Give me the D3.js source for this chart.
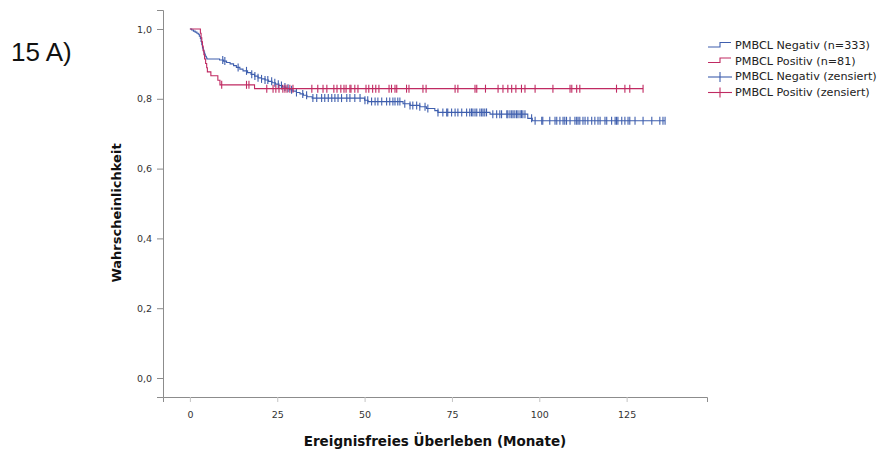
<!DOCTYPE html>
<html>
<head>
<meta charset="utf-8">
<script src="https://cdn.jsdelivr.net/npm/d3@7"></script>
<style>
  body { margin: 0; background: #fff; }
  text { font-family: "DejaVu Sans", sans-serif; }
</style>
</head>
<body>
<div id="chart"></div>
<script>
// event times (months) and survival after each event
var negTimes = [0.5, 1.0, 1.5, 2.0, 2.4, 2.7, 3.0, 3.2, 3.4, 3.6, 3.8, 4.0, 4.2, 4.4, 4.7, 4.9, 8.5, 9.6,
    10.5, 11.5, 12.5, 13.3, 14.3, 15.2, 16.5, 17.5, 18.5, 19.5, 20.5, 21.5, 22.5, 23.5, 24.5, 25.5,
    26.5, 27.5, 28.5, 29.5, 30.5, 31.5, 32.5, 33.5, 35.0, 50.0, 51.0, 61.0, 63.0, 65.8, 67.7, 70.1, 71.0,
    85.9, 96.7, 98.0];
var negSurv = [0.997, 0.994, 0.991, 0.988, 0.985, 0.979, 0.973, 0.964, 0.955, 0.946, 0.940, 0.934, 0.928, 0.922, 0.917, 0.914, 0.911, 0.908,
    0.904, 0.900, 0.895, 0.890, 0.885, 0.880, 0.875, 0.870, 0.865, 0.860, 0.857, 0.854, 0.850, 0.846, 0.842, 0.838,
    0.834, 0.830, 0.826, 0.822, 0.818, 0.814, 0.810, 0.806, 0.802, 0.796, 0.792, 0.786, 0.781, 0.777, 0.772, 0.766, 0.761,
    0.756, 0.744, 0.737];
var posTimes = [3.0, 3.2, 3.4, 3.6, 3.8, 4.0, 4.2, 4.5, 4.8, 5.0, 6.0, 8.0, 8.6, 18.5];
var posSurv = [0.988, 0.975, 0.963, 0.951, 0.938, 0.926, 0.914, 0.901, 0.889, 0.877, 0.866, 0.853, 0.840, 0.829];

// censored times (months)
var negCensor = [9.4, 10.0, 13.8, 16.2, 17.7, 18.6, 19.5, 20.5, 21.5, 22.3, 23.4, 24.3, 25.3, 26.2, 27.2, 28.1,
    29.1, 30.5, 32.3, 33.4, 35.2, 36.3, 37.7, 38.6, 39.6, 40.6, 41.5, 42.4, 43.4, 44.9, 45.8, 47.2, 48.7,
    50.1, 50.9, 52.0, 53.0, 53.8, 54.9, 56.3, 57.2, 58.1, 58.7, 59.5, 60.1, 61.5, 63.0, 63.8, 64.9, 65.8,
    67.3, 68.1, 71.0, 72.4, 73.5, 73.8, 74.9, 75.9, 76.7, 77.8, 79.2, 80.1, 80.6, 81.0, 81.6, 82.1, 83.0,
    83.5, 83.9, 84.4, 84.9, 86.7, 87.8, 88.7, 89.2, 90.7, 91.0, 91.6, 92.1, 92.5, 93.0, 93.5, 93.9, 94.5,
    94.9, 95.3, 95.9, 97.8, 98.8, 100.7, 101.0, 103.0, 104.5, 105.0, 105.9, 106.8, 107.3, 107.8, 108.8,
    110.2, 110.7, 111.1, 111.6, 112.5, 113.1, 113.9, 115.0, 115.9, 116.8, 117.4, 118.8, 119.3, 120.7,
    121.7, 122.1, 122.5, 123.6, 124.5, 125.4, 125.9, 127.4, 129.7, 132.2, 134.5, 135.4, 136.0];
var posCensor = [9.1, 16.2, 16.9, 22.0, 23.8, 24.6, 25.5, 26.6, 27.2, 27.8, 28.6, 29.5, 34.9, 36.6, 38.1, 39.2,
    41.2, 42.1, 43.2, 44.1, 44.7, 45.8, 46.1, 47.2, 48.1, 50.4, 51.2, 52.3, 53.2, 54.1, 57.0, 57.7, 58.7,
    59.2, 62.0, 62.7, 66.7, 67.6, 75.9, 76.7, 81.6, 82.1, 84.6, 88.2, 89.6, 91.0, 92.1, 93.3, 94.9, 95.9,
    98.8, 103.9, 108.8, 109.3, 110.7, 111.6, 122.1, 124.5, 125.9, 129.7];

var xTicks = [0, 25, 50, 75, 100, 125];
var yTicks = [0, 0.2, 0.4, 0.6, 0.8, 1.0];
var legendLabels = ["PMBCL Negativ (n=333)", "PMBCL Positiv (n=81)", "PMBCL Negativ (zensiert)", "PMBCL Positiv (zensiert)"];

var width = 889, height = 455;
var blue = "#3f5fae", red = "#c02a62", axisCol = "#8c8c8c";

var svg = d3.select("#chart").append("svg")
    .attr("width", width)
    .attr("height", height);

//scales
var x = d3.scaleLinear().domain([-7.7, 148]).range([163, 707]);
var y = d3.scaleLinear().domain([-0.0544, 1.0544]).range([397, 10]);

//panel label
svg.append("text")
    .attr("x", 11).attr("y", 61)
    .style("font-family", "'Liberation Sans', Arial, sans-serif")
    .style("font-size", "26px")
    .attr("fill", "#111")
    .text("15 A)");

//y axis
var yAxis = d3.axisLeft(y).tickValues(yTicks).tickSize(6).tickPadding(5)
    .tickFormat(function (d) { return d3.format(".1f")(d).replace(".", ","); });
var gy = svg.append("g").attr("transform", "translate(163,0)").call(yAxis);
gy.select(".domain").attr("stroke", axisCol);
gy.selectAll(".tick line").attr("stroke", axisCol);
gy.selectAll(".tick text").attr("fill", "#333").style("font-size", "9.5px").style("font-family", "'DejaVu Sans', sans-serif");

//x axis
var xAxis = d3.axisBottom(x).tickValues(xTicks).tickSize(5).tickPadding(9);
var gx = svg.append("g").attr("transform", "translate(0,397)").call(xAxis);
gx.select(".domain").attr("stroke", axisCol);
gx.selectAll(".tick line").attr("stroke", "#c4c4c4");
gx.selectAll(".tick text").attr("fill", "#333").style("font-size", "9.5px").style("font-family", "'DejaVu Sans', sans-serif");

//axis titles
svg.append("text")
    .attr("transform", "translate(121,213) rotate(-90)")
    .attr("text-anchor", "middle")
    .style("font-size", "13px").style("font-weight", "bold")
    .attr("fill", "#111")
    .text("Wahrscheinlichkeit");
svg.append("text")
    .attr("x", 435).attr("y", 446)
    .attr("text-anchor", "middle")
    .style("font-size", "13.5px").style("font-weight", "bold")
    .attr("fill", "#111")
    .text("Ereignisfreies Überleben (Monate)");

//step curves
function stepPoints(times, surv, end) {
    var pts = [[0, 1]];
    times.forEach(function (t, i) { pts.push([t, surv[i]]); });
    pts.push([end, surv[surv.length - 1]]);
    return pts;
}
function survAt(times, surv, t) {
    var s = 1;
    for (var i = 0; i < times.length; i++) { if (times[i] <= t) s = surv[i]; }
    return s;
}
var line = d3.line()
    .x(function (d) { return x(d[0]); })
    .y(function (d) { return y(d[1]); })
    .curve(d3.curveStepAfter);

var groups = [
    {times: negTimes, surv: negSurv, censor: negCensor, color: blue},
    {times: posTimes, surv: posSurv, censor: posCensor, color: red}
];
groups.forEach(function (g) {
    var end = d3.max(g.censor);
    svg.append("path")
        .datum(stepPoints(g.times, g.surv, end))
        .attr("d", line)
        .attr("fill", "none")
        .attr("stroke", g.color)
        .attr("stroke-width", 1.1);
    // censor marks
    svg.append("g").selectAll("line")
        .data(g.censor)
        .enter().append("line")
        .attr("x1", function (d) { return x(d); })
        .attr("x2", function (d) { return x(d); })
        .attr("y1", function (d) { return y(survAt(g.times, g.surv, d)) - 4; })
        .attr("y2", function (d) { return y(survAt(g.times, g.surv, d)) + 4; })
        .attr("stroke", g.color)
        .attr("stroke-width", 1.1);
});

//legend
var leg = svg.append("g").attr("transform", "translate(708,0)");
var rowY = [45, 60.5, 76, 91.5];
var legColors = [blue, red, blue, red];
legendLabels.forEach(function (lab, i) {
    var cy = rowY[i];
    if (i < 2) {
        leg.append("path")
            .attr("d", "M0," + (cy + 2) + "H12V" + (cy - 2.5) + "H23")
            .attr("fill", "none").attr("stroke", legColors[i]).attr("stroke-width", 1.1);
    } else {
        leg.append("line").attr("x1", 0).attr("x2", 24).attr("y1", cy + 1).attr("y2", cy + 1)
            .attr("stroke", legColors[i]).attr("stroke-width", 1.1);
        leg.append("line").attr("x1", 12).attr("x2", 12).attr("y1", cy - 4).attr("y2", cy + 6)
            .attr("stroke", legColors[i]).attr("stroke-width", 1.1);
    }
    leg.append("text")
        .attr("x", 27).attr("y", cy + 4)
        .style("font-size", "11.2px")
        .attr("fill", "#222")
        .text(lab);
});
</script>
</body>
</html>
